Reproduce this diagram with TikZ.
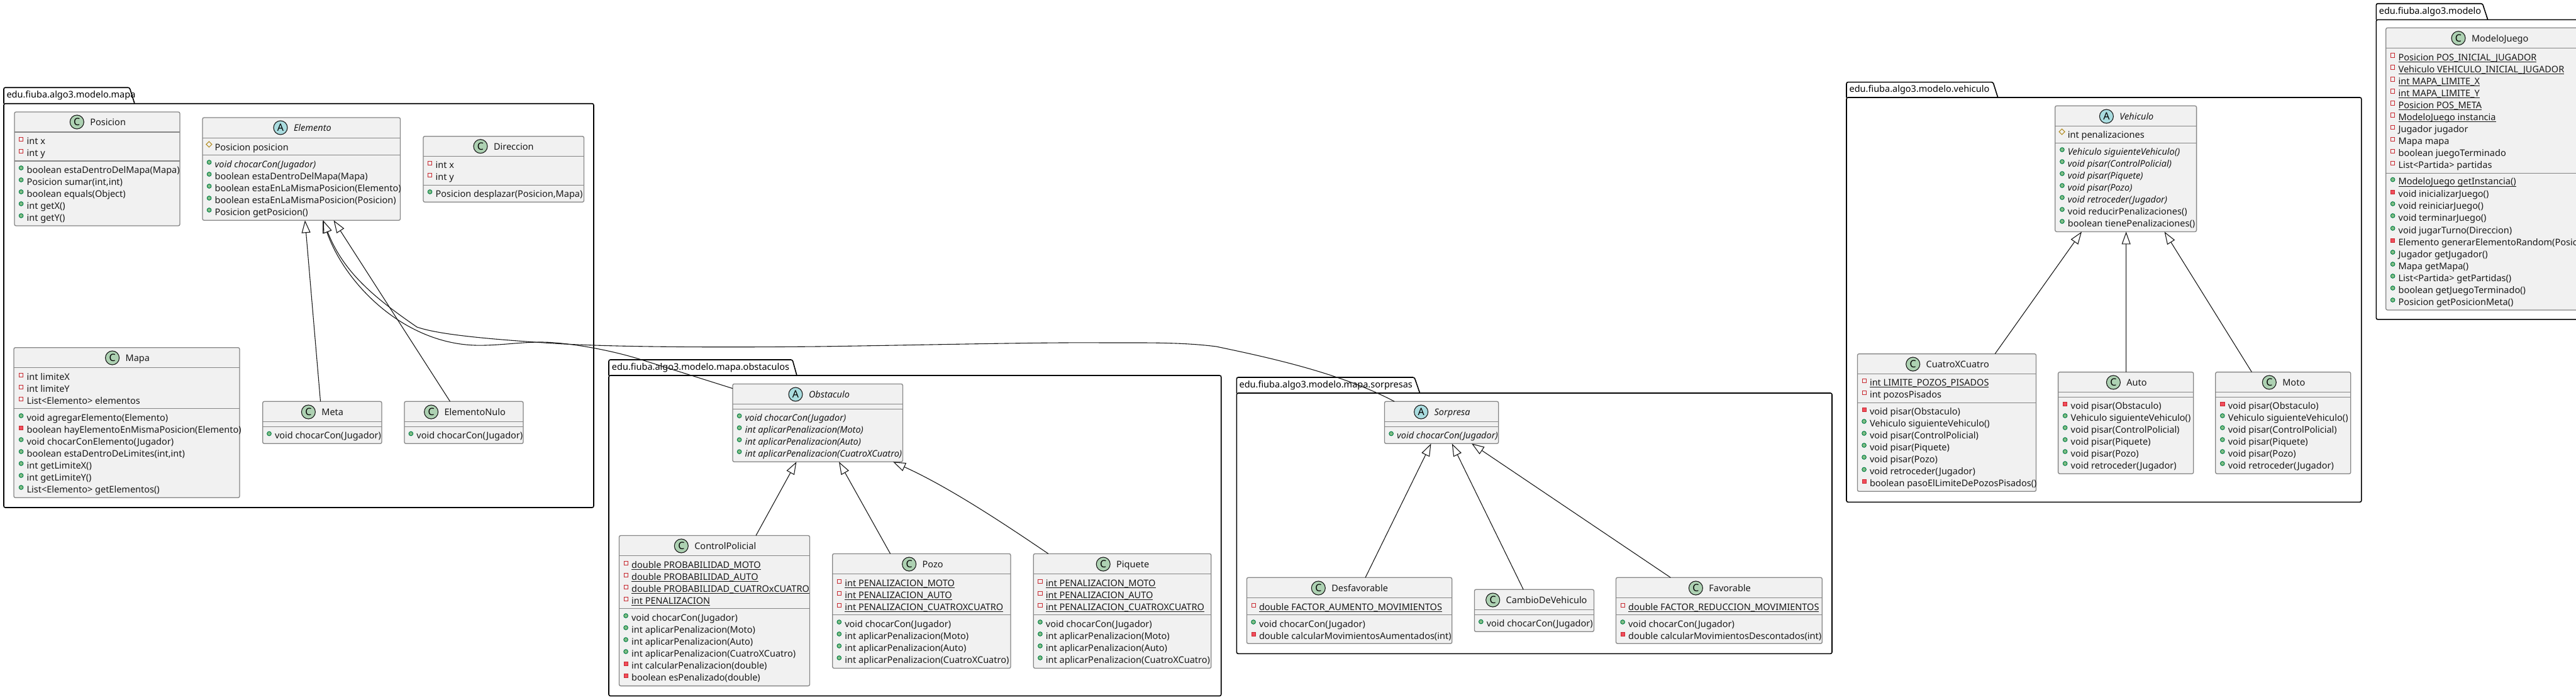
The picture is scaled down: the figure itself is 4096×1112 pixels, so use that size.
\documentclass[tikz,border=0pt]{standalone}
\usepackage{fontspec}
\usepackage{tikz}
\usetikzlibrary{arrows.meta,shapes.geometric}
\setmainfont{Noto Sans}
\newcommand{\uline}[1]{\setbox0=\hbox{#1}\rlap{\copy0}\rule[-3pt]{\wd0}{1pt}}
\definecolor{boxfill}{HTML}{F1F1F1}
\definecolor{boxline}{HTML}{858585}
\definecolor{inkline}{HTML}{181818}
\definecolor{classgreen}{HTML}{ADD1B2}
\definecolor{abstractblue}{HTML}{A9DCDF}
\definecolor{pubfill}{HTML}{84BE84}
\definecolor{publine}{HTML}{038048}
\definecolor{privfill}{HTML}{F24D5C}
\definecolor{privline}{HTML}{C82930}
\definecolor{protline}{HTML}{B38D22}

\begin{document}
\begin{tikzpicture}[x = 1pt, y = -1pt, line width = 1.1pt,
                      classbox/.style = {rectangle, draw = boxline, fill = boxfill, rounded corners = 2.5pt, anchor = north west, inner sep = 0pt, outer sep = 0pt, line width = 1.3pt},
                      classline/.style = {draw = boxline, line width = 1.3pt},
                      pkgbox/.style = {rectangle, draw = black, rounded corners = 2.5pt, anchor = north west, inner sep = 0pt, outer sep = 0pt, line width = 1.6pt},
                      pkgline/.style = {draw = black, rounded corners = 2.5pt, line width = 1.6pt},
                      pkglabel/.style = {anchor = west, inner sep = 0pt, font = \fontsize{14.5}{19}\selectfont\bfseries},
                      member/.style = {anchor = west, inner sep = 0pt, outer sep = 0pt, text height = 13.6pt, text depth = 3pt, text = inkline, font = \fontsize{14.5}{19}\selectfont},
                      markbase/.style = {inner sep = 0pt, outer sep = 0pt, text height = 0pt, text depth = 0pt, line width = 1pt},
                      pubdot/.style = {markbase, circle, draw = publine, fill = pubfill, minimum size = 6.6pt, xshift = -5.7pt, yshift = 3pt},
                      privsq/.style = {markbase, rectangle, draw = privline, minimum size = 6.2pt, xshift = -5.8pt, yshift = 2.8pt},
                      privsolid/.style = {markbase, rectangle, draw = privline, fill = privfill, minimum size = 6.2pt, xshift = -5.8pt, yshift = 2.8pt},
                      protdia/.style = {markbase, diamond, draw = protline, minimum size = 9pt, xshift = -4.8pt, yshift = 4.5pt},
                      pubm/.style = {member, label = {[pubdot]left:}},
                      privf/.style = {member, label = {[privsq]left:}},
                      privm/.style = {member, label = {[privsolid]left:}},
                      protf/.style = {member, label = {[protdia]left:}},
                      titletext/.style = {member, anchor = west, xshift = 10pt},
                      classmark/.style = {circle, draw = inkline, fill = classgreen, minimum size = 22pt, inner sep = 0pt, outer sep = 0pt, line width = 1.1pt, text = black, font = \fontsize{16}{16}\selectfont\bfseries},
                      abstractmark/.style = {classmark, fill = abstractblue},
                      extends/.style = {draw = inkline, <-, >={Triangle[length = 20pt, width = 14pt, fill = white]}}]
    \useasboundingbox (0, 0) rectangle (4096, 1112);
    \clip (0, 0) rectangle (4096, 1112);

    % packages
    \node [pkgbox, minimum width = 938pt, minimum height = 642.3pt] (mapaBox) at (6, 164.7){};
    \draw [pkgline] (mapaBox.north west) |- (206, 139.2) -- (214, 164.7);
    \node [pkglabel] (mapaLabel) at (10, 152){edu.fiuba.algo3.modelo.mapa};

    \node [pkgbox, minimum width = 973.7pt, minimum height = 509.5pt] (obstaculosBox) at (968, 597){};
    \draw [pkgline] (obstaculosBox.north west) |- (1260, 572) -- (1267, 597);
    \node [pkglabel] (obstaculosLabel) at (972.4, 584.5){edu.fiuba.algo3.modelo.mapa.obstaculos};

    \node [pkgbox, minimum width = 946.7pt, minimum height = 414.3pt] (sorpresasBox) at (1966.3, 625){};
    \draw [pkgline] (sorpresasBox.north west) |- (2249, 600) -- (2257.6, 625);
    \node [pkglabel] (sorpresasLabel) at (1970, 613){edu.fiuba.algo3.modelo.mapa.sorpresas};

    \node [pkgbox, minimum width = 818.8pt, minimum height = 643.3pt] (vehiculoBox) at (2936, 155){};
    \draw [pkgline] (vehiculoBox.north west) |- (3169, 130.6) -- (3176.7, 155);
    \node [pkglabel] (vehiculoLabel) at (2940, 142.5){edu.fiuba.algo3.modelo.vehiculo};

    \node [pkgbox, minimum width = 400pt, minimum height = 476.6pt] (modeloBox) at (3778.3, 31.3){};
    \draw [pkgline] (modeloBox.north west) |- (3947.3, 5.7) -- (3955.7, 31.3);
    \node [pkglabel] (modeloLabel) at (3782.3, 19){edu.fiuba.algo3.modelo};

    % Posicion
    \node [classbox, minimum width = 263pt, minimum height = 181pt] (posicion) at (23, 178){};
    \draw [classline] (posicion.west |- 0, 210) -- (posicion.east |- 0, 210);
    \draw [classline] (posicion.west |- 0, 256) -- (posicion.east |- 0, 256);
    \node [classmark, label = {[titletext]right:Posicion}] (posicionC) at (122.3, 194){C};
    \node [privf] (posicionA1) at (42.6, 224){int x};
    \node [privf] (posicionA2) at (42.6, 243){int y};
    \node [pubm] (posicionM1) at (42.6, 270){boolean estaDentroDelMapa(Mapa)};
    \node [pubm] (posicionM2) at (42.6, 289){Posicion sumar(int,int)};
    \node [pubm] (posicionM3) at (42.6, 308){boolean equals(Object)};
    \node [pubm] (posicionM4) at (42.6, 327){int getX()};
    \node [pubm] (posicionM5) at (42.6, 346){int getY()};

    % Elemento
    \node [classbox, minimum width = 314.5pt, minimum height = 163.3pt] (elemento) at (322, 187){};
    \draw [classline] (elemento.west |- 0, 219.3) -- (elemento.east |- 0, 219.3);
    \draw [classline] (elemento.west |- 0, 246.3) -- (elemento.east |- 0, 246.3);
    \node [abstractmark, label = {[titletext]right:\textit{Elemento}}] (elementoC) at (446, 203){A};
    \node [protf] (elementoA1) at (341.6, 234){Posicion posicion};
    \node [pubm] (elementoM1) at (341.6, 261){\textit{void chocarCon(Jugador)}};
    \node [pubm] (elementoM2) at (341.6, 280){boolean estaDentroDelMapa(Mapa)};
    \node [pubm] (elementoM3) at (341.6, 299){boolean estaEnLaMismaPosicion(Elemento)};
    \node [pubm] (elementoM4) at (341.6, 318){boolean estaEnLaMismaPosicion(Posicion)};
    \node [pubm] (elementoM5) at (341.6, 337){Posicion getPosicion()};

    % Direccion
    \node [classbox, minimum width = 255.5pt, minimum height = 104.6pt] (direccion) at (673, 216.7){};
    \draw [classline] (direccion.west |- 0, 248.3) -- (direccion.east |- 0, 248.3);
    \draw [classline] (direccion.west |- 0, 294.3) -- (direccion.east |- 0, 294.3);
    \node [classmark, label = {[titletext]right:Direccion}] (direccionC) at (764, 232.7){C};
    \node [privf] (direccionA1) at (692.6, 262.3){int x};
    \node [privf] (direccionA2) at (692.6, 281.3){int y};
    \node [pubm] (direccionM1) at (692.6, 308){Posicion desplazar(Posicion,Mapa)};

    % Mapa
    \node [classbox, minimum width = 359pt, minimum height = 238.6pt] (mapa) at (22, 552.7){};
    \draw [classline] (mapa.west |- 0, 584.3) -- (mapa.east |- 0, 584.3);
    \draw [classline] (mapa.west |- 0, 649.3) -- (mapa.east |- 0, 649.3);
    \node [classmark, label = {[titletext]right:Mapa}] (mapaC) at (178.6, 569){C};
    \node [privf] (mapaA1) at (42.6, 599){int limiteX};
    \node [privf] (mapaA2) at (42.6, 618){int limiteY};
    \node [privf] (mapaA3) at (42.6, 637){List<Elemento> elementos};
    \node [pubm] (mapaM1) at (42.6, 664){void agregarElemento(Elemento)};
    \node [privm] (mapaM2) at (42.6, 683){boolean hayElementoEnMismaPosicion(Elemento)};
    \node [pubm] (mapaM3) at (42.6, 702){void chocarConElemento(Jugador)};
    \node [pubm] (mapaM4) at (42.6, 721){boolean estaDentroDeLimites(int,int)};
    \node [pubm] (mapaM5) at (42.6, 740){int getLimiteX()};
    \node [pubm] (mapaM6) at (42.6, 759){int getLimiteY()};
    \node [pubm] (mapaM7) at (42.6, 778){List<Elemento> getElementos()};

    % Meta, ElementoNulo
    \node [classbox, minimum width = 189.3pt, minimum height = 67pt] (meta) at (417.7, 638.3){};
    \draw [classline] (meta.west |- 0, 670.3) -- (meta.east |- 0, 670.3);
    \draw [classline] (meta.west |- 0, 678.3) -- (meta.east |- 0, 678.3);
    \node [classmark, label = {[titletext]right:Meta}] (metaC) at (490.4, 655){C};
    \node [pubm] (metaM1) at (437, 692.5){void chocarCon(Jugador)};

    \node [classbox, minimum width = 189pt, minimum height = 67pt] (elementoNulo) at (643, 638.3){};
    \draw [classline] (elementoNulo.west |- 0, 670.3) -- (elementoNulo.east |- 0, 670.3);
    \draw [classline] (elementoNulo.west |- 0, 678.3) -- (elementoNulo.east |- 0, 678.3);
    \node [classmark, label = {[titletext]right:ElementoNulo}] (elementoNuloC) at (685.6, 655){C};
    \node [pubm] (elementoNuloM1) at (662.4, 692.5){void chocarCon(Jugador)};

    % Obstaculo
    \node [classbox, minimum width = 270.4pt, minimum height = 123.9pt] (obstaculo) at (1165, 610.4){};
    \draw [classline] (obstaculo.west |- 0, 642.4) -- (obstaculo.east |- 0, 642.4);
    \draw [classline] (obstaculo.west |- 0, 650.5) -- (obstaculo.east |- 0, 650.5);
    \node [abstractmark, label = {[titletext]right:\textit{Obstaculo}}] (obstaculoC) at (1265, 627){A};
    \node [pubm] (obstaculoM1) at (1184.6, 664.2){\textit{void chocarCon(Jugador)}};
    \node [pubm] (obstaculoM2) at (1184.6, 683.2){\textit{int aplicarPenalizacion(Moto)}};
    \node [pubm] (obstaculoM3) at (1184.6, 702.2){\textit{int aplicarPenalizacion(Auto)}};
    \node [pubm] (obstaculoM4) at (1184.6, 721.2){\textit{int aplicarPenalizacion(CuatroXCuatro)}};

    % ControlPolicial
    \node [classbox, minimum width = 303pt, minimum height = 239.1pt] (controlPolicial) at (984.5, 851.5){};
    \draw [classline] (controlPolicial.west |- 0, 883.6) -- (controlPolicial.east |- 0, 883.6);
    \draw [classline] (controlPolicial.west |- 0, 967.7) -- (controlPolicial.east |- 0, 967.7);
    \node [classmark, label = {[titletext]right:ControlPolicial}] (controlPolicialC) at (1083.3, 868){C};
    \node [privf] (controlPolicialA1) at (1004.1, 898){\uline{double PROBABILIDAD\_MOTO}};
    \node [privf] (controlPolicialA2) at (1004.1, 917){\uline{double PROBABILIDAD\_AUTO}};
    \node [privf] (controlPolicialA3) at (1004.1, 936){\uline{double PROBABILIDAD\_CUATROxCUATRO}};
    \node [privf] (controlPolicialA4) at (1004.1, 955){\uline{int PENALIZACION}};
    \node [pubm] (controlPolicialM1) at (1004.1, 982){void chocarCon(Jugador)};
    \node [pubm] (controlPolicialM2) at (1004.1, 1001){int aplicarPenalizacion(Moto)};
    \node [pubm] (controlPolicialM3) at (1004.1, 1020){int aplicarPenalizacion(Auto)};
    \node [pubm] (controlPolicialM4) at (1004.1, 1039){int aplicarPenalizacion(CuatroXCuatro)};
    \node [privm] (controlPolicialM5) at (1004.1, 1058){int calcularPenalizacion(double)};
    \node [privm] (controlPolicialM6) at (1004.1, 1077){boolean esPenalizado(double)};

    % Pozo
    \node [classbox, minimum width = 283.3pt, minimum height = 182.1pt] (pozo) at (1323.7, 880.4){};
    \draw [classline] (pozo.west |- 0, 912.5) -- (pozo.east |- 0, 912.5);
    \draw [classline] (pozo.west |- 0, 977.6) -- (pozo.east |- 0, 977.6);
    \node [classmark, label = {[titletext]right:Pozo}] (pozoC) at (1445.6, 897){C};
    \node [privf] (pozoA1) at (1343.3, 927){\uline{int PENALIZACION\_MOTO}};
    \node [privf] (pozoA2) at (1343.3, 946){\uline{int PENALIZACION\_AUTO}};
    \node [privf] (pozoA3) at (1343.3, 965){\uline{int PENALIZACION\_CUATROXCUATRO}};
    \node [pubm] (pozoM1) at (1343.3, 992){void chocarCon(Jugador)};
    \node [pubm] (pozoM2) at (1343.3, 1011){int aplicarPenalizacion(Moto)};
    \node [pubm] (pozoM3) at (1343.3, 1030){int aplicarPenalizacion(Auto)};
    \node [pubm] (pozoM4) at (1343.3, 1049){int aplicarPenalizacion(CuatroXCuatro)};

    % Piquete
    \node [classbox, minimum width = 282.5pt, minimum height = 182.1pt] (piquete) at (1643.3, 880.4){};
    \draw [classline] (piquete.west |- 0, 912.5) -- (piquete.east |- 0, 912.5);
    \draw [classline] (piquete.west |- 0, 977.6) -- (piquete.east |- 0, 977.6);
    \node [classmark, label = {[titletext]right:Piquete}] (piqueteC) at (1754.2, 897){C};
    \node [privf] (piqueteA1) at (1662.9, 927){\uline{int PENALIZACION\_MOTO}};
    \node [privf] (piqueteA2) at (1662.9, 946){\uline{int PENALIZACION\_AUTO}};
    \node [privf] (piqueteA3) at (1662.9, 965){\uline{int PENALIZACION\_CUATROXCUATRO}};
    \node [pubm] (piqueteM1) at (1662.9, 992){void chocarCon(Jugador)};
    \node [pubm] (piqueteM2) at (1662.9, 1011){int aplicarPenalizacion(Moto)};
    \node [pubm] (piqueteM3) at (1662.9, 1030){int aplicarPenalizacion(Auto)};
    \node [pubm] (piqueteM4) at (1662.9, 1049){int aplicarPenalizacion(CuatroXCuatro)};

    % Sorpresa
    \node [classbox, minimum width = 181.2pt, minimum height = 67pt] (sorpresa) at (2201.5, 638.3){};
    \draw [classline] (sorpresa.west |- 0, 670.3) -- (sorpresa.east |- 0, 670.3);
    \draw [classline] (sorpresa.west |- 0, 678.3) -- (sorpresa.east |- 0, 678.3);
    \node [abstractmark, label = {[titletext]right:\textit{Sorpresa}}] (sorpresaC) at (2259.6, 655){A};
    \node [pubm] (sorpresaM1) at (2221.1, 692.5){\textit{void chocarCon(Jugador)}};

    % Desfavorable, CambioDeVehiculo, Favorable
    \node [classbox, minimum width = 326.3pt, minimum height = 105pt] (desfavorable) at (1982.4, 918.3){};
    \draw [classline] (desfavorable.west |- 0, 950.3) -- (desfavorable.east |- 0, 950.3);
    \draw [classline] (desfavorable.west |- 0, 977.3) -- (desfavorable.east |- 0, 977.3);
    \node [classmark, label = {[titletext]right:Desfavorable}] (desfavorableC) at (2096.3, 935){C};
    \node [privf] (desfavorableA1) at (2002, 965){\uline{double FACTOR\_AUMENTO\_MOVIMIENTOS}};
    \node [pubm] (desfavorableM1) at (2002, 992){void chocarCon(Jugador)};
    \node [privm] (desfavorableM2) at (2002, 1011){double calcularMovimientosAumentados(int)};

    \node [classbox, minimum width = 190pt, minimum height = 67pt] (cambioDeVehiculo) at (2344.4, 937.3){};
    \draw [classline] (cambioDeVehiculo.west |- 0, 969.3) -- (cambioDeVehiculo.east |- 0, 969.3);
    \draw [classline] (cambioDeVehiculo.west |- 0, 977.3) -- (cambioDeVehiculo.east |- 0, 977.3);
    \node [classmark, label = {[titletext]right:CambioDeVehiculo}] (cambioDeVehiculoC) at (2373.7, 954){C};
    \node [pubm] (cambioDeVehiculoM1) at (2363.8, 991.5){void chocarCon(Jugador)};

    \node [classbox, minimum width = 327.8pt, minimum height = 105pt] (favorable) at (2569.5, 918.3){};
    \draw [classline] (favorable.west |- 0, 950.3) -- (favorable.east |- 0, 950.3);
    \draw [classline] (favorable.west |- 0, 977.3) -- (favorable.east |- 0, 977.3);
    \node [classmark, label = {[titletext]right:Favorable}] (favorableC) at (2696.4, 935){C};
    \node [privf] (favorableA1) at (2589.1, 965){\uline{double FACTOR\_REDUCCION\_MOVIMIENTOS}};
    \node [pubm] (favorableM1) at (2589.1, 992){void chocarCon(Jugador)};
    \node [privm] (favorableM2) at (2589.1, 1011){double calcularMovimientosDescontados(int)};

    % Vehiculo
    \node [classbox, minimum width = 224.9pt, minimum height = 200.1pt] (vehiculo) at (3267.7, 168.3){};
    \draw [classline] (vehiculo.west |- 0, 200.5) -- (vehiculo.east |- 0, 200.5);
    \draw [classline] (vehiculo.west |- 0, 227.3) -- (vehiculo.east |- 0, 227.3);
    \node [abstractmark, label = {[titletext]right:\textit{Vehiculo}}] (vehiculoC) at (3349.4, 185){A};
    \node [protf] (vehiculoA1) at (3287.9, 214){int penalizaciones};
    \node [pubm] (vehiculoM1) at (3287.9, 241){\textit{Vehiculo siguienteVehiculo()}};
    \node [pubm] (vehiculoM2) at (3287.9, 260){\textit{void pisar(ControlPolicial)}};
    \node [pubm] (vehiculoM3) at (3287.9, 279){\textit{void pisar(Piquete)}};
    \node [pubm] (vehiculoM4) at (3287.9, 298){\textit{void pisar(Pozo)}};
    \node [pubm] (vehiculoM5) at (3287.9, 317){\textit{void retroceder(Jugador)}};
    \node [pubm] (vehiculoM6) at (3287.9, 336){void reducirPenalizaciones()};
    \node [pubm] (vehiculoM7) at (3287.9, 355){boolean tienePenalizaciones()};

    % CuatroXCuatro
    \node [classbox, minimum width = 284.1pt, minimum height = 218.7pt] (cuatroXCuatro) at (2953.4, 562.6){};
    \draw [classline] (cuatroXCuatro.west |- 0, 594.3) -- (cuatroXCuatro.east |- 0, 594.3);
    \draw [classline] (cuatroXCuatro.west |- 0, 640.3) -- (cuatroXCuatro.east |- 0, 640.3);
    \node [classmark, label = {[titletext]right:CuatroXCuatro}] (cuatroXCuatroC) at (3041.7, 579){C};
    \node [privf] (cuatroXCuatroA1) at (2973, 608){\uline{int LIMITE\_POZOS\_PISADOS}};
    \node [privf] (cuatroXCuatroA2) at (2973, 627){int pozosPisados};
    \node [privm] (cuatroXCuatroM1) at (2973, 654){void pisar(Obstaculo)};
    \node [pubm] (cuatroXCuatroM2) at (2973, 673){Vehiculo siguienteVehiculo()};
    \node [pubm] (cuatroXCuatroM3) at (2973, 692){void pisar(ControlPolicial)};
    \node [pubm] (cuatroXCuatroM4) at (2973, 711){void pisar(Piquete)};
    \node [pubm] (cuatroXCuatroM5) at (2973, 730){void pisar(Pozo)};
    \node [pubm] (cuatroXCuatroM6) at (2973, 749.5){void retroceder(Jugador)};
    \node [privm] (cuatroXCuatroM7) at (2973, 768.5){boolean pasoElLimiteDePozosPisados()};

    % Auto
    \node [classbox, minimum width = 215.1pt, minimum height = 161.7pt] (auto) at (3272.6, 591.6){};
    \draw [classline] (auto.west |- 0, 623.3) -- (auto.east |- 0, 623.3);
    \draw [classline] (auto.west |- 0, 631.3) -- (auto.east |- 0, 631.3);
    \node [classmark, label = {[titletext]right:Auto}] (autoC) at (3360.4, 608){C};
    \node [privm] (autoM1) at (3292.6, 645){void pisar(Obstaculo)};
    \node [pubm] (autoM2) at (3292.6, 664){Vehiculo siguienteVehiculo()};
    \node [pubm] (autoM3) at (3292.6, 683){void pisar(ControlPolicial)};
    \node [pubm] (autoM4) at (3292.6, 702){void pisar(Piquete)};
    \node [pubm] (autoM5) at (3292.6, 721){void pisar(Pozo)};
    \node [pubm] (autoM6) at (3292.6, 740){void retroceder(Jugador)};

    % Moto
    \node [classbox, minimum width = 215pt, minimum height = 161.7pt] (moto) at (3522.8, 591.6){};
    \draw [classline] (moto.west |- 0, 623.3) -- (moto.east |- 0, 623.3);
    \draw [classline] (moto.west |- 0, 631.3) -- (moto.east |- 0, 631.3);
    \node [classmark, label = {[titletext]right:Moto}] (motoC) at (3608.3, 608){C};
    \node [privm] (motoM1) at (3542.8, 645){void pisar(Obstaculo)};
    \node [pubm] (motoM2) at (3542.8, 664){Vehiculo siguienteVehiculo()};
    \node [pubm] (motoM3) at (3542.8, 683){void pisar(ControlPolicial)};
    \node [pubm] (motoM4) at (3542.8, 702){void pisar(Piquete)};
    \node [pubm] (motoM5) at (3542.8, 721){void pisar(Pozo)};
    \node [pubm] (motoM6) at (3542.8, 740){void retroceder(Jugador)};

    % ModeloJuego
    \node [classbox, minimum width = 340pt, minimum height = 448.6pt] (modeloJuego) at (3793.7, 44.3){};
    \draw [classline] (modeloJuego.west |- 0, 76.7) -- (modeloJuego.east |- 0, 76.7);
    \draw [classline] (modeloJuego.west |- 0, 275.4) -- (modeloJuego.east |- 0, 275.4);
    \node [classmark, label = {[titletext]right:ModeloJuego}] (modeloJuegoC) at (3909, 60.7){C};
    \node [privf] (modeloJuegoA1) at (3813.6, 90.7){\uline{Posicion POS\_INICIAL\_JUGADOR}};
    \node [privf] (modeloJuegoA2) at (3813.6, 109.7){\uline{Vehiculo VEHICULO\_INICIAL\_JUGADOR}};
    \node [privf] (modeloJuegoA3) at (3813.6, 128.7){\uline{int MAPA\_LIMITE\_X}};
    \node [privf] (modeloJuegoA4) at (3813.6, 147.7){\uline{int MAPA\_LIMITE\_Y}};
    \node [privf] (modeloJuegoA5) at (3813.6, 166.7){\uline{Posicion POS\_META}};
    \node [privf] (modeloJuegoA6) at (3813.6, 185.7){\uline{ModeloJuego instancia}};
    \node [privf] (modeloJuegoA7) at (3813.6, 205){Jugador jugador};
    \node [privf] (modeloJuegoA8) at (3813.6, 224){Mapa mapa};
    \node [privf] (modeloJuegoA9) at (3813.6, 243){boolean juegoTerminado};
    \node [privf] (modeloJuegoA10) at (3813.6, 262){List<Partida> partidas};
    \node [pubm] (modeloJuegoM1) at (3813.6, 288.6){\uline{ModeloJuego getInstancia()}};
    \node [privm] (modeloJuegoM2) at (3813.6, 308){void inicializarJuego()};
    \node [pubm] (modeloJuegoM3) at (3813.6, 327){void reiniciarJuego()};
    \node [pubm] (modeloJuegoM4) at (3813.6, 346){void terminarJuego()};
    \node [pubm] (modeloJuegoM5) at (3813.6, 366){void jugarTurno(Direccion)};
    \node [privm] (modeloJuegoM6) at (3813.6, 385){Elemento generarElementoRandom(Posici};
    \node [pubm] (modeloJuegoM7) at (3813.6, 404){Jugador getJugador()};
    \node [pubm] (modeloJuegoM8) at (3813.6, 423){Mapa getMapa()};
    \node [pubm] (modeloJuegoM9) at (3813.6, 442){List<Partida> getPartidas()};
    \node [pubm] (modeloJuegoM10) at (3813.6, 461){boolean getJuegoTerminado()};
    \node [pubm] (modeloJuegoM11) at (3813.6, 480){Posicion getPosicionMeta()};

    % inheritance
    \draw [extends] ([xshift = 5.7pt]elemento.south) -- ([xshift = -2.8pt]meta.north);
    \draw [extends] ([xshift = 51.3pt]elemento.south) -- ([xshift = -21.9pt]elementoNulo.north);
    \draw [extends] ([xshift = 34pt]elemento.south) .. controls (548, 450) and (640, 545) .. (755, 549)
        .. controls (790, 550) and (825, 544) .. (860, 544) .. controls (900, 544) and (970, 556) .. (1020, 572)
        -- ([yshift = 54.7pt]obstaculo.west);
    \draw [extends] ([xshift = 34.5pt]elemento.south) .. controls (545, 430) and (590, 470) .. (663, 520)
        .. controls (700, 533) and (790, 540) .. (880, 546) .. controls (960, 551) and (1100, 553) .. (1300, 551)
        .. controls (1450, 549) and (1650, 544) .. (1755, 545) .. controls (1820, 545) and (1880, 544) .. (1934, 551)
        .. controls (2010, 567) and (2130, 592) .. ([xshift = -75pt]sorpresa.north);

    \draw [extends] ([xshift = -33.8pt]obstaculo.south) -- ([xshift = 66pt]controlPolicial.north);
    \draw [extends] ([xshift = 33.8pt]obstaculo.south) -- ([xshift = -49.7pt]pozo.north);
    \draw [extends] ([xshift = 119.8pt]obstaculo.south) .. controls (1510, 775) and (1600, 835) .. ([xshift = -117.7pt]piquete.north);

    \draw [extends] ([xshift = -16.6pt]sorpresa.south) -- ([xshift = 25.5pt]desfavorable.north);
    \draw [extends] ([xshift = 16.6pt]sorpresa.south) -- ([xshift = -17.2pt]cambioDeVehiculo.north);
    \draw [extends] ([xshift = 47.9pt]sorpresa.south) -- ([xshift = -77.1pt]favorable.north);

    \draw [extends] ([xshift = -70.1pt]vehiculo.south) -- ([xshift = 76.7pt]cuatroXCuatro.north);
    \draw [extends] ([xshift = 0.5pt]vehiculo.south) -- ([xshift = 0.5pt]auto.north);
    \draw [extends] ([xshift = 61.4pt]vehiculo.south) -- ([xshift = -49.9pt]moto.north);
    \end{tikzpicture}
\end{document}
